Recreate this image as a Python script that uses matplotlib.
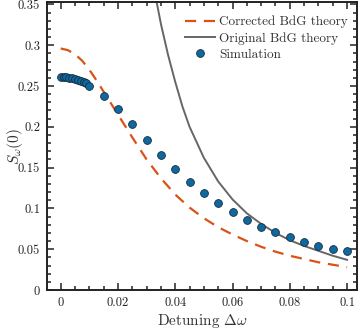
import matplotlib
matplotlib.use("Agg")
import matplotlib.pyplot as plt
from matplotlib.ticker import MultipleLocator

# --- data ---
sim_x = [0.0, 0.001, 0.002, 0.003, 0.004, 0.005, 0.006, 0.007, 0.008, 0.009, 0.010,
         0.015, 0.020, 0.025, 0.030, 0.035, 0.040, 0.045, 0.050, 0.055, 0.060,
         0.065, 0.070, 0.075, 0.080, 0.085, 0.090, 0.095, 0.100]
sim_y = [0.2612, 0.2610, 0.2606, 0.2601, 0.2595, 0.2587, 0.2578, 0.2567, 0.2553, 0.2535, 0.2505,
         0.2376, 0.2216, 0.2032, 0.1844, 0.1659, 0.1483, 0.1327, 0.1188, 0.1063, 0.0955,
         0.0864, 0.0778, 0.0709, 0.0648, 0.0594, 0.0545, 0.0508, 0.0476]

corr_x = [0.0, 0.0025, 0.005, 0.0075, 0.01, 0.0125, 0.015, 0.0175, 0.02, 0.025, 0.03,
          0.035, 0.04, 0.045, 0.05, 0.055, 0.06, 0.065, 0.07, 0.075, 0.08, 0.085,
          0.09, 0.095, 0.1]
corr_y = [0.296, 0.294, 0.289, 0.281, 0.270, 0.257, 0.243, 0.229, 0.215, 0.187, 0.160,
          0.137, 0.117, 0.101, 0.088, 0.077, 0.068, 0.060, 0.053, 0.047, 0.042, 0.038,
          0.034, 0.031, 0.028]

orig_x = [0.033, 0.035, 0.0375, 0.04, 0.0425, 0.045, 0.05, 0.055, 0.06, 0.065, 0.07,
          0.075, 0.08, 0.085, 0.09, 0.095, 0.1]
orig_y = [0.362, 0.326, 0.288, 0.255, 0.225, 0.200, 0.162, 0.133, 0.111, 0.094, 0.081,
          0.070, 0.061, 0.054, 0.048, 0.042, 0.037]

xticks = [0, 0.02, 0.04, 0.06, 0.08, 0.1]
xtick_labels = ["0", "0.02", "0.04", "0.06", "0.08", "0.1"]
yticks = [0, 0.05, 0.1, 0.15, 0.2, 0.25, 0.3, 0.35]
ytick_labels = ["0", "0.05", "0.1", "0.15", "0.2", "0.25", "0.3", "0.35"]

plt.rcParams.update({
    "font.family": "serif",
    "font.serif": ["cmr10"],
    "mathtext.fontset": "cm",
    "axes.formatter.use_mathtext": True,
})

fig = plt.figure(figsize=(3.64, 3.29), dpi=100)
ax = fig.add_axes([0.129, 0.1185, 0.852, 0.8755])

ax.plot(corr_x, corr_y, ls=(0, (5, 3.5)), color="#D95319", lw=1.6,
        label="Corrected BdG theory")
ax.plot(orig_x, orig_y, color="#666666", lw=1.4, label="Original BdG theory")
ax.plot(sim_x, sim_y, ls="none", marker="o", ms=5.6, mfc="#0b6aa2",
        mec="#1a2a3a", mew=0.6, label="Simulation")

ax.set_xlim(-0.0048, 0.1035)
ax.set_ylim(0, 0.353)
ax.set_xticks(xticks)
ax.set_xticklabels(xtick_labels)
ax.set_yticks(yticks)
ax.set_yticklabels(ytick_labels)
ax.xaxis.set_minor_locator(MultipleLocator(0.005))
ax.yaxis.set_minor_locator(MultipleLocator(0.01))
ax.tick_params(which="both", direction="in", top=True, right=True,
               labelsize=9, width=1.1, colors="#222222")
ax.tick_params(which="major", length=5, pad=5)
ax.tick_params(which="minor", length=3)
for s in ax.spines.values():
    s.set_linewidth(1.4)
    s.set_color("#222222")

ax.set_xlabel(r"Detuning $\Delta\omega$", fontsize=11, labelpad=2, color="#333333")
ax.set_ylabel(r"$S_\omega(0)$", fontsize=11, color="#333333")
ax.yaxis.set_label_coords(-0.072, 0.5)

leg = ax.legend(loc="upper right", frameon=False, fontsize=9.5,
                handlelength=2.3, handletextpad=0.3, labelspacing=0.3,
                borderaxespad=0.3, bbox_to_anchor=(1.0, 0.985))
for t in leg.get_texts():
    t.set_color("#333333")

fig.savefig("out.png", dpi=100)
